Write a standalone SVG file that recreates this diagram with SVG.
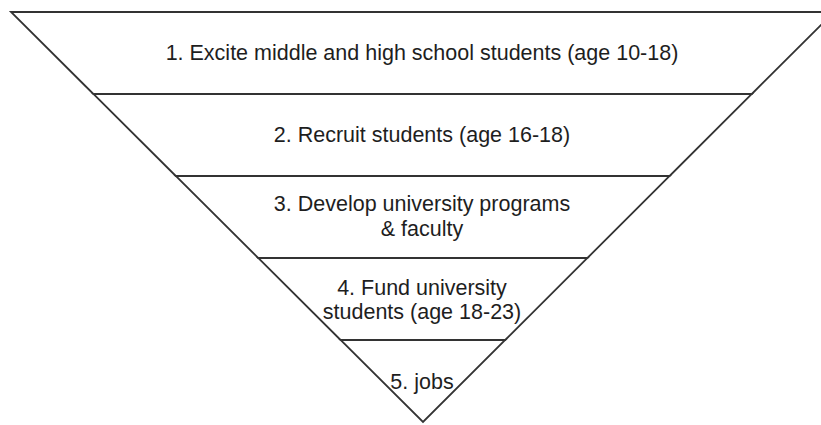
<svg xmlns="http://www.w3.org/2000/svg" width="821" height="425" viewBox="0 0 821 425">
<style>
.band{fill:#ffffff;stroke:#333333;stroke-width:1.8;stroke-linejoin:miter}
.lbl{font-family:"Liberation Sans",Arial,sans-serif;font-size:21.5px;fill:#1e1e1e;text-anchor:middle}
</style>
<rect width="821" height="425" fill="#ffffff"/>
<g id="band1">
<polygon class="band" points="11,12 834,12 751.8,94 93.4,94"/>
<text class="lbl" x="422" y="60">1. Excite middle and high school students (age 10-18)</text>
</g>
<g id="band2">
<polygon class="band" points="93.4,94 751.8,94 669.6,176 175.8,176"/>
<text class="lbl" x="422" y="142">2. Recruit students (age 16-18)</text>
</g>
<g id="band3">
<polygon class="band" points="175.8,176 669.6,176 587.4,258 258.2,258"/>
<text class="lbl" x="422" y="211">3. Develop university programs</text>
<text class="lbl" x="422" y="236">&amp; faculty</text>
</g>
<g id="band4">
<polygon class="band" points="258.2,258 587.4,258 505.2,340 340.6,340"/>
<text class="lbl" x="422" y="295">4. Fund university</text>
<text class="lbl" x="422" y="319">students (age 18-23)</text>
</g>
<g id="band5">
<polygon class="band" points="340.6,340 505.2,340 423,422"/>
<text class="lbl" x="422" y="389">5. jobs</text>
</g>
</svg>
